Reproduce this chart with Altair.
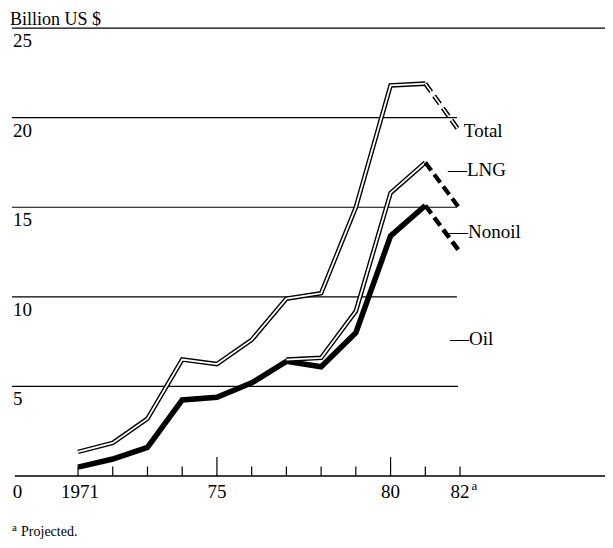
import altair as alt
import pandas as pd

# ---- data ----
years = list(range(1971, 1983))
oil = [0.5, 0.95, 1.6, 4.25, 4.4, 5.2, 6.4, 6.1, 8.0, 13.4, 15.1, 12.5]
lng_years = list(range(1977, 1983))
lng_top = [6.5, 6.6, 9.2, 15.8, 17.5, 14.9]
total = [1.35, 1.85, 3.2, 6.5, 6.25, 7.6, 9.9, 10.2, 15.0, 21.8, 21.9, 19.2]

grid_values = [25, 20, 15, 10, 5]
grid_labels = ["25", "20", "15", "10", "5"]
x_label_pos = [1969.26, 1971.06, 1975, 1980, 1982]
x_labels = ["0", "1971", "75", "80", "82"]
tick_years = list(range(1971, 1983))
major_years = [1975, 1980]
series_names = ["Total", "\u2014LNG", "\u2014Nonoil", "\u2014Oil"]
series_label_x = [1982.11, 1981.65, 1981.68, 1981.71]
series_label_y = [19.25, 17.08, 13.62, 7.65]

# ---- scales ----
W, H = 597, 532
X0 = 1968.984
X1 = X0 + W / 34.73
Y1 = 26.12
Y0 = Y1 - H / 17.92
xs = alt.Scale(domain=[X0, X1], nice=False, zero=False)
ys = alt.Scale(domain=[Y0, Y1], nice=False, zero=False)
FONT = "Liberation Serif"


def X(field="x"):
    return alt.X(f"{field}:Q", scale=xs, axis=None)


def Y(field="y"):
    return alt.Y(f"{field}:Q", scale=ys, axis=None)


def line(df, width, color, dash=None):
    kw = dict(strokeWidth=width, color=color, strokeJoin="miter", strokeCap="butt", clip=False)
    if dash:
        kw["strokeDash"] = dash
    return alt.Chart(df).mark_line(**kw).encode(x=X(), y=Y(), order="x:Q")


oil_df = pd.DataFrame({"x": years, "y": oil})
lng_df = pd.DataFrame({"x": lng_years, "y": lng_top})
tot_df = pd.DataFrame({"x": years, "y": total})


def solid(df):
    return df[df.x <= 1981]


def dashed(df):
    return df[df.x >= 1981]


DASH = [10, 5]

# gridlines
grid_ends = [X1, 1981.91, 1981.91, 1981.91, 1981.94]
grid_df = pd.DataFrame({"y": grid_values, "x": [1969.10] * 5, "x2": grid_ends, "label": grid_labels})
grid = alt.Chart(grid_df).mark_rule(color="black", strokeWidth=1.2).encode(
    x=X(), x2="x2:Q", y=Y())
ylab = alt.Chart(grid_df).mark_text(
    font=FONT, fontSize=19, align="left", baseline="middle", dy=13, dx=1, color="black").encode(
    x=X(), y=Y(), text="label:N")

axis_df = pd.DataFrame({"x": [1969.18], "x2": [X1], "y": [0]})
axis_line = alt.Chart(axis_df).mark_rule(color="black", strokeWidth=1.5).encode(
    x=X(), x2="x2:Q", y=Y())

tick_df = pd.DataFrame({"x": tick_years, "y": [0] * len(tick_years),
                        "y2": [1.06 if t in major_years else 0.53 for t in tick_years]})
ticks = alt.Chart(tick_df).mark_rule(color="black", strokeWidth=1.2).encode(
    x=X(), y=Y(), y2="y2:Q")

xlab_df = pd.DataFrame({"x": x_label_pos, "y": [0] * len(x_labels), "label": x_labels})
xlab = alt.Chart(xlab_df).mark_text(
    font=FONT, fontSize=19, align="center", baseline="middle", dy=16, color="black").encode(
    x=X(), y=Y(), text="label:N")
sup_df = pd.DataFrame({"x": [1982.33], "y": [0], "label": ["a"]})
sup = alt.Chart(sup_df).mark_text(
    font=FONT, fontSize=13, align="left", baseline="middle", dy=10, color="black").encode(
    x=X(), y=Y(), text="label:N")

title_df = pd.DataFrame({"x": [1969.04], "y": [25.45], "label": ["Billion US $"]})
title = alt.Chart(title_df).mark_text(
    font=FONT, fontSize=18, align="left", baseline="middle", color="black").encode(
    x=X(), y=Y(), text="label:N")

foot_df = pd.DataFrame({"x": [1969.10, 1969.36], "y": [-3.10, -3.10],
                        "label": ["a", "Projected."]})
foot_a = alt.Chart(foot_df.iloc[[0]]).mark_text(
    font=FONT, fontSize=11, align="left", baseline="middle", dy=-4, color="black").encode(
    x=X(), y=Y(), text="label:N")
foot_b = alt.Chart(foot_df.iloc[[1]]).mark_text(
    font=FONT, fontSize=14, align="left", baseline="middle", color="black").encode(
    x=X(), y=Y(), text="label:N")

ser_df = pd.DataFrame({"x": series_label_x, "y": series_label_y, "label": series_names})
ser = alt.Chart(ser_df).mark_text(
    font=FONT, fontSize=19, align="left", baseline="middle", color="black").encode(
    x=X(), y=Y(), text="label:N")

layers = [
    grid, axis_line, ticks, ylab, xlab, sup, title, foot_a, foot_b, ser,
    # oil
    line(solid(oil_df), 5.5, "black"),
    line(dashed(oil_df), 4.5, "black", DASH),
    # LNG (double line)
    line(solid(lng_df), 4.6, "black"),
    line(solid(lng_df), 1.8, "white"),
    line(dashed(lng_df), 4.2, "black", DASH),
    # total (double line)
    line(solid(tot_df), 4.6, "black"),
    line(solid(tot_df), 1.8, "white"),
    line(dashed(tot_df), 4.6, "black", DASH),
    line(dashed(tot_df), 1.6, "white", DASH),
]

chart = alt.layer(*layers).properties(
    width=W, height=H,
    autosize=alt.AutoSizeParams(type="none"),
    padding=0,
    background="white",
).configure_view(stroke=None)

chart.save("out.html", embed_options={"renderer": "svg", "actions": False})
